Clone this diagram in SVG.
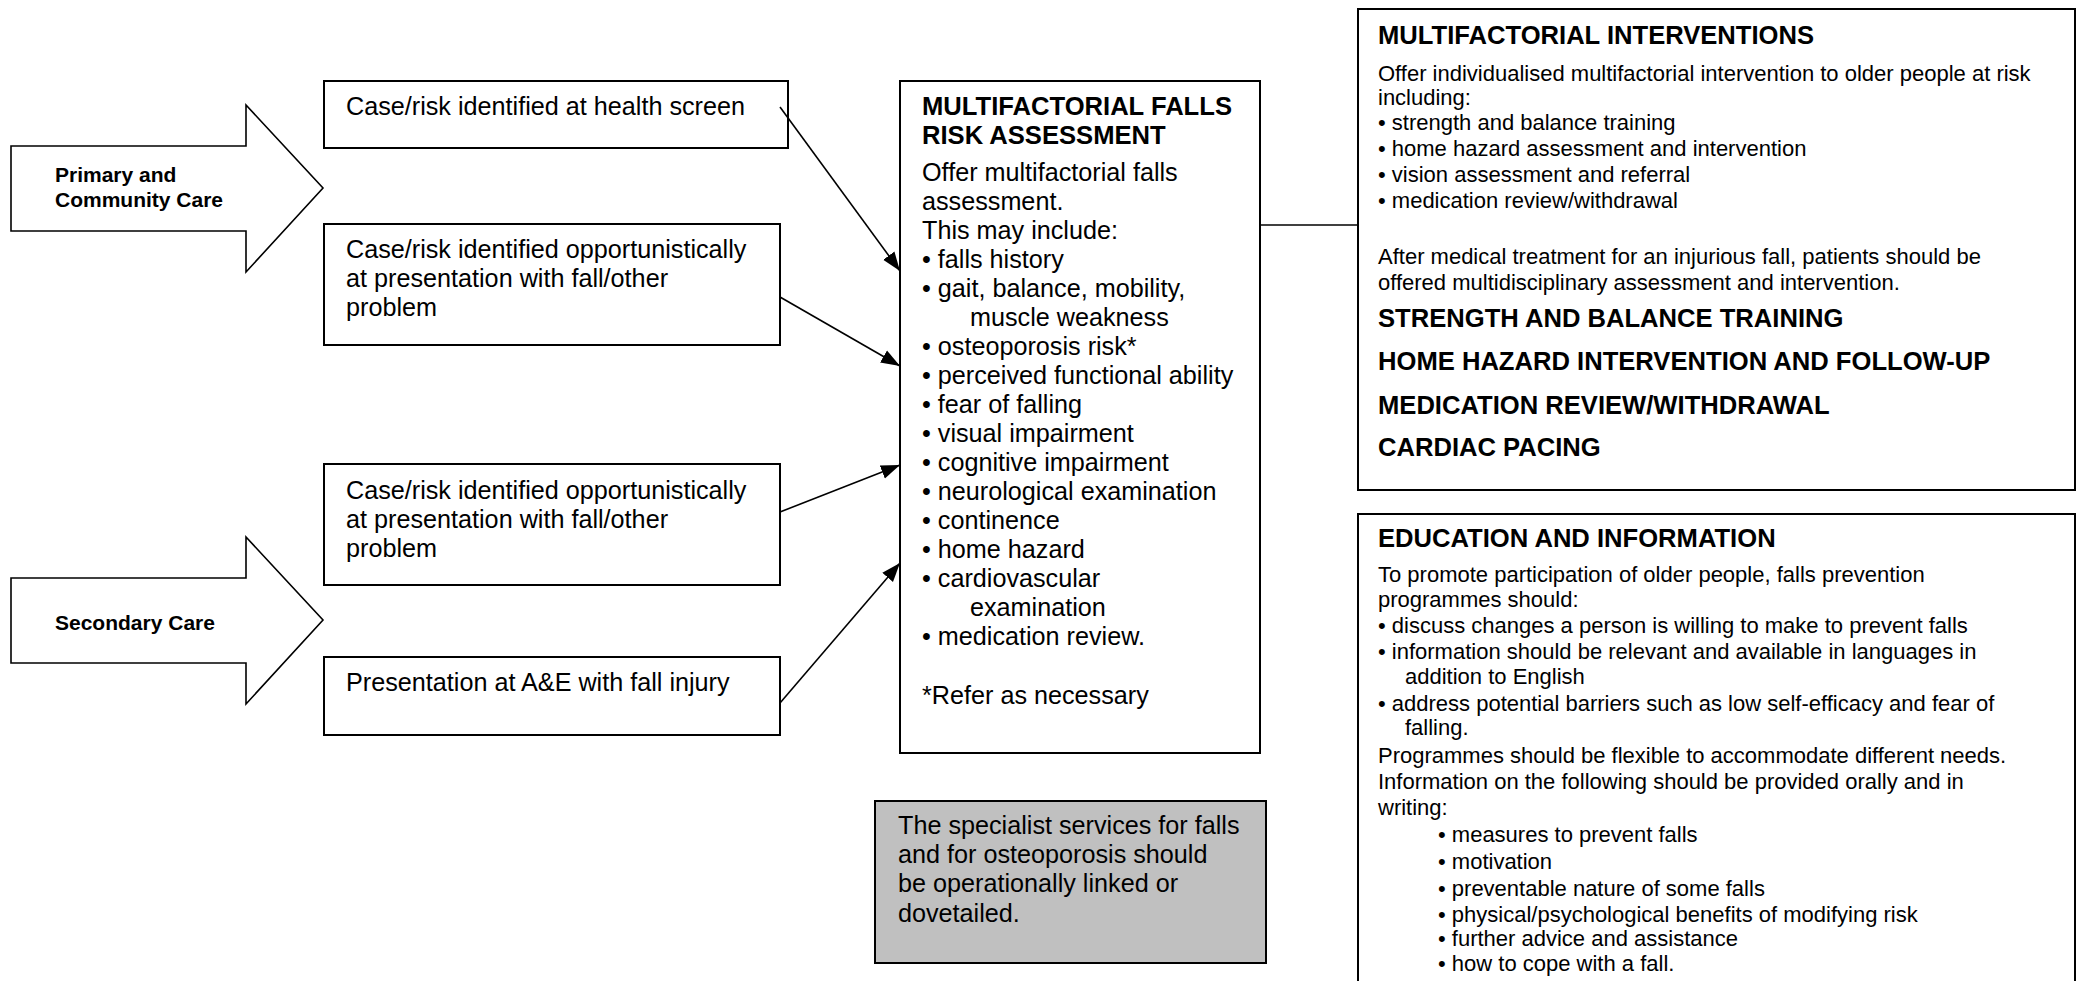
<svg xmlns="http://www.w3.org/2000/svg" width="2082" height="981" viewBox="0 0 2082 981">
<defs>
<style>
.box{fill:#ffffff;stroke:#000000;stroke-width:2}
.grey{fill:#c0c0c0;stroke:#000000;stroke-width:2}
.big{fill:#ffffff;stroke:#000000;stroke-width:1.6}
.t{font-family:"Liberation Sans",Arial,sans-serif;font-size:25.2px;fill:#000}
.tb{font-family:"Liberation Sans",Arial,sans-serif;font-size:25.6px;font-weight:bold;fill:#000}
.lab{font-family:"Liberation Sans",Arial,sans-serif;font-size:21px;font-weight:bold;fill:#000}
.s{font-family:"Liberation Sans",Arial,sans-serif;font-size:22px;fill:#000}
.conn{stroke:#000;stroke-width:1.6;fill:none}
</style>
<marker id="ah" markerUnits="userSpaceOnUse" markerWidth="20" markerHeight="16" viewBox="0 0 20 16" refX="19" refY="8" orient="auto">
<path d="M0,1 L19,8 L0,15 Z" fill="#000"/>
</marker>
</defs>
<rect width="2082" height="981" fill="#fff"/>

<g id="primary">
<polygon class="big" points="11,146 246,146 246,105 323,188 246,272 246,231 11,231"/>
<text class="lab" x="55" y="182">Primary and</text>
<text class="lab" x="55" y="207">Community Care</text>
</g>

<g id="secondary">
<polygon class="big" points="11,578 246,578 246,537 323,620 246,704 246,663 11,663"/>
<text class="lab" x="55" y="630">Secondary Care</text>
</g>

<g id="box1">
<rect class="box" x="324" y="81" width="464" height="67"/>
<text class="t" x="346" y="115">Case/risk identified at health screen</text>
</g>

<g id="box2">
<rect class="box" x="324" y="224" width="456" height="121"/>
<text class="t" x="346" y="258">Case/risk identified opportunistically</text>
<text class="t" x="346" y="287">at presentation with fall/other</text>
<text class="t" x="346" y="316">problem</text>
</g>

<g id="box3">
<rect class="box" x="324" y="464" width="456" height="121"/>
<text class="t" x="346" y="499">Case/risk identified opportunistically</text>
<text class="t" x="346" y="528">at presentation with fall/other</text>
<text class="t" x="346" y="557">problem</text>
</g>

<g id="box4">
<rect class="box" x="324" y="657" width="456" height="78"/>
<text class="t" x="346" y="691">Presentation at A&amp;E with fall injury</text>
</g>

<g id="assessment">
<rect class="box" x="900" y="81" width="360" height="672"/>
<text class="tb" x="922" y="115">MULTIFACTORIAL FALLS</text>
<text class="tb" x="922" y="144">RISK ASSESSMENT</text>
<text class="t" x="922" y="181">Offer multifactorial falls</text>
<text class="t" x="922" y="210">assessment.</text>
<text class="t" x="922" y="239">This may include:</text>
<text class="t" x="922" y="268">• falls history</text>
<text class="t" x="922" y="297">• gait, balance, mobility,</text>
<text class="t" x="970" y="326">muscle weakness</text>
<text class="t" x="922" y="355">• osteoporosis risk*</text>
<text class="t" x="922" y="384">• perceived functional ability</text>
<text class="t" x="922" y="413">• fear of falling</text>
<text class="t" x="922" y="442">• visual impairment</text>
<text class="t" x="922" y="471">• cognitive impairment</text>
<text class="t" x="922" y="500">• neurological examination</text>
<text class="t" x="922" y="529">• continence</text>
<text class="t" x="922" y="558">• home hazard</text>
<text class="t" x="922" y="587">• cardiovascular</text>
<text class="t" x="970" y="616">examination</text>
<text class="t" x="922" y="645">• medication review.</text>
<text class="t" x="922" y="704">*Refer as necessary</text>
</g>

<g id="specialist">
<rect class="grey" x="875" y="801" width="391" height="162"/>
<text class="t" x="898" y="834">The specialist services for falls</text>
<text class="t" x="898" y="863">and for osteoporosis should</text>
<text class="t" x="898" y="892">be operationally linked or</text>
<text class="t" x="898" y="922">dovetailed.</text>
</g>

<g id="interventions">
<rect class="box" x="1358" y="9" width="717" height="481"/>
<text class="tb" x="1378" y="44">MULTIFACTORIAL INTERVENTIONS</text>
<text class="s" x="1378" y="81">Offer individualised multifactorial intervention to older people at risk</text>
<text class="s" x="1378" y="105">including:</text>
<text class="s" x="1378" y="130">• strength and balance training</text>
<text class="s" x="1378" y="156">• home hazard assessment and intervention</text>
<text class="s" x="1378" y="182">• vision assessment and referral</text>
<text class="s" x="1378" y="208">• medication review/withdrawal</text>
<text class="s" x="1378" y="264">After medical treatment for an injurious fall, patients should be</text>
<text class="s" x="1378" y="290">offered multidisciplinary assessment and intervention.</text>
<text class="tb" x="1378" y="327">STRENGTH AND BALANCE TRAINING</text>
<text class="tb" x="1378" y="370">HOME HAZARD INTERVENTION AND FOLLOW-UP</text>
<text class="tb" x="1378" y="414">MEDICATION REVIEW/WITHDRAWAL</text>
<text class="tb" x="1378" y="456">CARDIAC PACING</text>
</g>

<g id="education">
<rect class="box" x="1358" y="514" width="717" height="480"/>
<text class="tb" x="1378" y="547">EDUCATION AND INFORMATION</text>
<text class="s" x="1378" y="582">To promote participation of older people, falls prevention</text>
<text class="s" x="1378" y="607">programmes should:</text>
<text class="s" x="1378" y="633">• discuss changes a person is willing to make to prevent falls</text>
<text class="s" x="1378" y="659">• information should be relevant and available in languages in</text>
<text class="s" x="1405" y="684">addition to English</text>
<text class="s" x="1378" y="711">• address potential barriers such as low self-efficacy and fear of</text>
<text class="s" x="1405" y="735">falling.</text>
<text class="s" x="1378" y="763">Programmes should be flexible to accommodate different needs.</text>
<text class="s" x="1378" y="789">Information on the following should be provided orally and in</text>
<text class="s" x="1378" y="815">writing:</text>
<text class="s" x="1438" y="842">• measures to prevent falls</text>
<text class="s" x="1438" y="869">• motivation</text>
<text class="s" x="1438" y="896">• preventable nature of some falls</text>
<text class="s" x="1438" y="922">• physical/psychological benefits of modifying risk</text>
<text class="s" x="1438" y="946">• further advice and assistance</text>
<text class="s" x="1438" y="971">• how to cope with a fall.</text>
</g>

<g id="connectors">
<line class="conn" x1="780" y1="107" x2="900" y2="271" marker-end="url(#ah)"/>
<line class="conn" x1="780" y1="297" x2="900" y2="366" marker-end="url(#ah)"/>
<line class="conn" x1="780" y1="512" x2="900" y2="465" marker-end="url(#ah)"/>
<line class="conn" x1="780" y1="703" x2="900" y2="563" marker-end="url(#ah)"/>
<line class="conn" x1="1260" y1="225" x2="1358" y2="225"/>
</g>
</svg>
